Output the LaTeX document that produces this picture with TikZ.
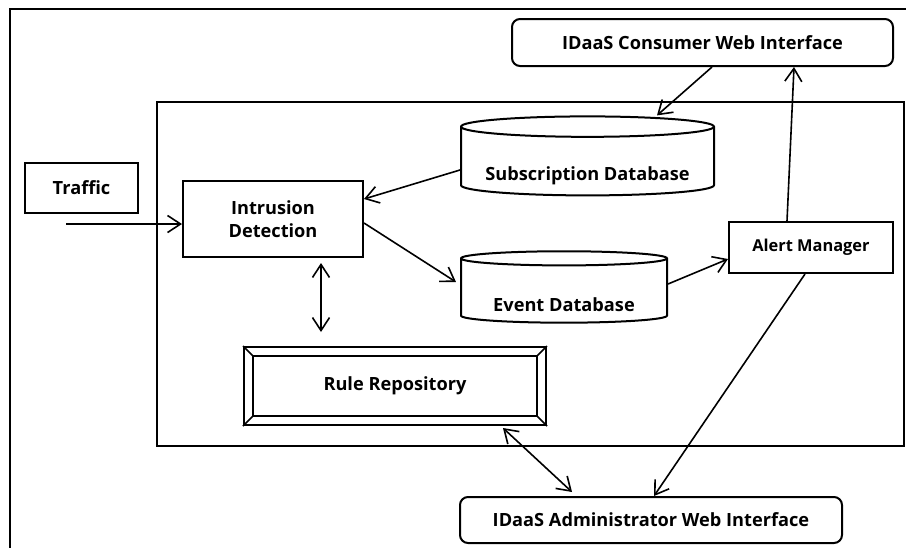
\documentclass[tikz,border=0pt]{standalone}
\usepackage{fontspec}
\setmainfont{Open Sans}
\usetikzlibrary{shapes.geometric,arrows.meta}
\begin{document}
\begin{tikzpicture}[x=0.5pt, y=-0.5pt,
  font=\fontsize{9.1}{11.5}\selectfont\bfseries,
  box/.style={draw, line width=1pt, inner sep=0pt, align=center},
  roundbox/.style={box, rounded corners=4pt},
  dbase/.style={box, cylinder, shape border rotate=90, aspect=0.1, text depth=2pt},
  link/.style={line width=0.8pt, -{Straight Barb[length=6.5pt,width=8.5pt]}},
  dlink/.style={line width=0.8pt, {Straight Barb[length=6.5pt,width=8.5pt]}-{Straight Barb[length=6.5pt,width=8.5pt]}}]
\useasboundingbox (0,0) rectangle (906,548);
% Outer frame (top and left sides only)
\draw[line width=1pt] (906,9) -- (10,9) -- (10,548);
% Inner frame
\node[box, minimum width=373.5pt, minimum height=172pt] (core) at (530.5,274) {};
% Web interfaces
\node[roundbox, minimum width=190.5pt, minimum height=23.5pt] (consumer) at (702.5,42.5) {IDaaS Consumer Web Interface};
\node[roundbox, minimum width=191pt, minimum height=23pt] (admin) at (651,520) {IDaaS Administrator Web Interface};
% Traffic and detection
\node[box, minimum width=56.5pt, minimum height=25pt] (traffic) at (81.5,188) {Traffic};
\node[box, minimum width=90pt, minimum height=38pt] (intrusion) at (273,219) {Intrusion\\Detection};
% Databases (text sits low in the body)
\node[dbase, text height=21pt, minimum width=126.5pt, minimum height=39.5pt] (subdb) at (587.5,161.5) {Subscription Database};
\node[dbase, text height=22.6pt, minimum width=103pt, minimum height=34pt] (eventdb) at (564,291) {Event Database};
% Alert manager
\node[box, font=\fontsize{8.2}{10}\selectfont\bfseries, minimum width=82pt, minimum height=25.5pt] (alert) at (811,247.5) {Alert Manager};
% Rule repository (bevelled frame)
\node[box, minimum width=151pt, minimum height=39pt] (rule) at (395,386) {Rule Repository};
\draw[line width=1pt] ([xshift=5pt,yshift=-5pt]rule.north west) rectangle ([xshift=-5pt,yshift=5pt]rule.south east);
\draw[line width=0.8pt] (rule.north west) -- ++(10,10);
\draw[line width=0.8pt] (rule.north east) -- ++(-10,10);
\draw[line width=0.8pt] (rule.south west) -- ++(10,-10);
\draw[line width=0.8pt] (rule.south east) -- ++(-10,-10);
% Traffic input
\coordinate (tin) at (66,224);
\draw[link] (tin) -- (tin -| intrusion.west);
% Connections
\draw[link] ([xshift=4.75pt]consumer.south) -- ([xshift=34.75pt]subdb.north);
\draw[link] ([xshift=-12pt]alert.north) -- ([xshift=45.75pt]consumer.south);
\draw[link] ([yshift=-4.25pt]subdb.west) -- ([yshift=10pt]intrusion.east);
\draw[link] ([yshift=-2pt]intrusion.east) -- ([xshift=-2pt,yshift=4.5pt]eventdb.west);
\draw[link] ([yshift=3.5pt]eventdb.east) -- ([yshift=-5.75pt]alert.west);
\draw[link] ([xshift=-3pt]alert.south) -- ([xshift=1.5pt]admin.north);
\draw[dlink, shorten <=2.5pt, shorten >=7pt] ([xshift=24pt]intrusion.south) -- ([xshift=24pt]intrusion.south |- rule.north);
\draw[dlink] ([xshift=54pt,yshift=-1pt]rule.south) -- ([xshift=-39.5pt,yshift=2pt]admin.north);
\end{tikzpicture}
\end{document}
